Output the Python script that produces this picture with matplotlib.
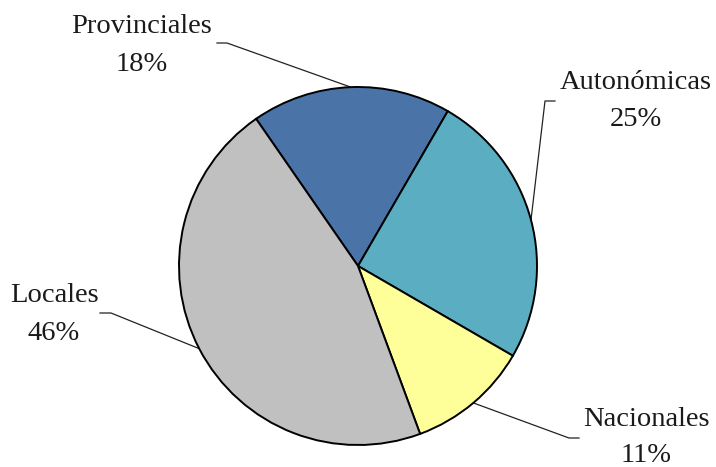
import matplotlib
matplotlib.use('Agg')

import matplotlib.pyplot as plt
import numpy as np

# Datos del gráfico
categorias = ["Provinciales", "Autonómicas", "Nacionales", "Locales"]
porcentajes = [18, 25, 11, 46]
colores = ["#4A74A8", "#5BADC2", "#FFFF99", "#C0C0C0"]

# Tamaño en píxeles de la figura
W, H = 716, 467
CENTRO = (358, H - 266)
RADIO = 179
ANGULO_INICIO = 124.7

# Posición de cada etiqueta (x centro, línea base del nombre, línea base del %)
# y extremo del tramo horizontal de la guía (px desde arriba)
pos_etiquetas = {
    "Provinciales": (142, 33, 71, (217, 43), (227, 43)),
    "Autonómicas": (636, 89, 126, (555, 101), (545, 101)),
    "Nacionales": (646, 426, 462, (579, 438), (569, 438)),
    "Locales": (54, 302, 340, (100, 313), (111, 313)),
}

plt.rcParams['font.family'] = ['Liberation Serif', 'DejaVu Serif']

fig = plt.figure(figsize=(W / 100, H / 100), dpi=100)
ax = fig.add_axes([0, 0, 1, 1])

wedges, _ = ax.pie(porcentajes, colors=colores, startangle=ANGULO_INICIO,
                   counterclock=False, center=CENTRO, radius=RADIO, frame=True,
                   wedgeprops=dict(edgecolor='black', linewidth=1.4))

for w, nombre, pct in zip(wedges, categorias, porcentajes):
    ang = np.deg2rad((w.theta1 + w.theta2) / 2)
    borde = (CENTRO[0] + RADIO * np.cos(ang), CENTRO[1] + RADIO * np.sin(ang))
    xc, yb1, yb2, p_ext, p_codo = pos_etiquetas[nombre]
    ax.plot([p_ext[0], p_codo[0], borde[0]], [H - p_ext[1], H - p_codo[1], borde[1]],
            color='#222222', lw=0.9, zorder=0.5)
    ax.text(xc, H - yb1, nombre, ha='center', va='baseline', fontsize=20.5, color='#1a1a1a')
    ax.text(xc, H - yb2, f"{pct}%", ha='center', va='baseline', fontsize=20.5, color='#1a1a1a')

ax.set_xlim(0, W)
ax.set_ylim(0, H)
ax.set_aspect('equal')
ax.axis('off')

plt.savefig("out.png", dpi=100)
plt.close(fig)
